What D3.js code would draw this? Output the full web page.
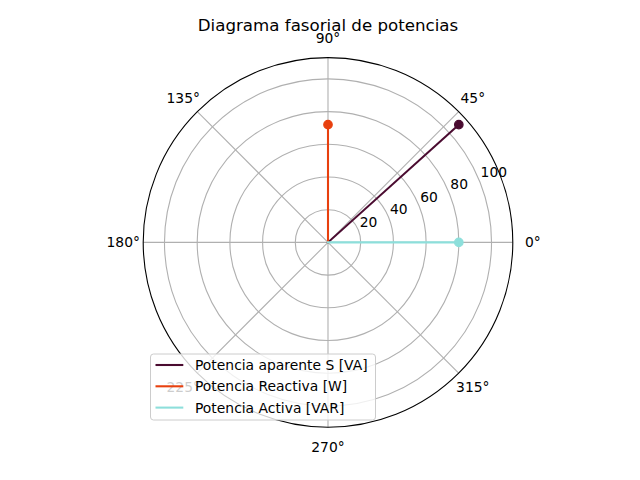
<!DOCTYPE html>
<html>
<head>
<meta charset="utf-8">
<script src="https://cdn.jsdelivr.net/npm/d3@7"></script>
<style>
  html, body { margin: 0; padding: 0; background: #fff; }
  svg { display: block; font-family: "DejaVu Sans", sans-serif; }
</style>
</head>
<body>
<div id="chart"></div>
<script>
// ---- data ----
const seriesNames = ["Potencia aparente S [VA]", "Potencia Reactiva [W]", "Potencia Activa [VAR]"];
const seriesColors = ["#4a0b30", "#e8400e", "#8ddfdb"];
const P = 80;        // active power
const Q = 72;        // reactive power
const S = Math.sqrt(P * P + Q * Q);
const phiDeg = Math.atan2(Q, P) * 180 / Math.PI;
const seriesMagnitudes = [S, Q, P];
const seriesAnglesDeg = [phiDeg, 90, 0];
const radialTicks = [20, 40, 60, 80, 100];
const angleTicks = [0, 45, 90, 135, 180, 225, 270, 315];
const title = "Diagrama fasorial de potencias";

// ---- layout ----
const W = 640, H = 480;
const cx = 328, cy = 242.4, R = 184.8;
const rMax = S * 1.05;

const svg = d3.select("#chart").append("svg").attr("width", W).attr("height", H);
const g = svg.append("g").attr("transform", `translate(${cx},${cy})`);

const r = d3.scaleLinear().domain([0, rMax]).range([0, R]);
const toRad = d => d * Math.PI / 180;
const px = (deg, rr) => rr * Math.cos(toRad(deg));
const py = (deg, rr) => -rr * Math.sin(toRad(deg));

// background
g.append("circle").attr("r", R).attr("fill", "#fff");

// grid circles
g.selectAll("circle.grid").data(radialTicks).join("circle")
  .attr("class", "grid").attr("r", d => r(d))
  .attr("fill", "none").attr("stroke", "#b0b0b0").attr("stroke-width", 1.1);

// theta grid lines
g.selectAll("line.tgrid").data(angleTicks).join("line")
  .attr("class", "tgrid")
  .attr("x1", 0).attr("y1", 0)
  .attr("x2", d => px(d, R)).attr("y2", d => py(d, R))
  .attr("stroke", "#b0b0b0").attr("stroke-width", 1.1);

// data lines
const idx = d3.range(seriesNames.length);
g.selectAll("line.data").data(idx).join("line")
  .attr("class", "data")
  .attr("x1", 0).attr("y1", 0)
  .attr("x2", i => px(seriesAnglesDeg[i], r(seriesMagnitudes[i])))
  .attr("y2", i => py(seriesAnglesDeg[i], r(seriesMagnitudes[i])))
  .attr("stroke", i => seriesColors[i]).attr("stroke-width", 2.08)
  .attr("stroke-linecap", "square");

g.selectAll("circle.marker").data(idx).join("circle")
  .attr("class", "marker")
  .attr("cx", i => px(seriesAnglesDeg[i], r(seriesMagnitudes[i])))
  .attr("cy", i => py(seriesAnglesDeg[i], r(seriesMagnitudes[i])))
  .attr("r", 4.2)
  .attr("fill", i => seriesColors[i])
  .attr("stroke", i => seriesColors[i]).attr("stroke-width", 1.3);

// outer spine
g.append("circle").attr("r", R).attr("fill", "none")
  .attr("stroke", "#000").attr("stroke-width", 1.1);

// radial tick labels at 22.5°
g.selectAll("text.rlab").data(radialTicks).join("text")
  .attr("class", "rlab")
  .attr("x", d => px(22.5, r(d)) + 1.5)
  .attr("y", d => py(22.5, r(d)) - 3)
  .attr("text-anchor", "start")
  .attr("font-size", 13.89).attr("fill", "#000")
  .text(d => d);

// angle labels
g.selectAll("text.tlab").data(angleTicks).join("text")
  .attr("class", "tlab")
  .attr("x", d => px(d, R + 20))
  .attr("y", d => py(d, R + 20))
  .attr("text-anchor", "middle")
  .attr("dominant-baseline", "central")
  .attr("font-size", 13.89).attr("fill", "#000")
  .text(d => d + "°");

// title
svg.append("text")
  .attr("x", cx).attr("y", 31)
  .attr("text-anchor", "middle")
  .attr("font-size", 16.67).attr("fill", "#000")
  .text(title);

// legend
const lx = 150.5, ly = 354, lw = 225, lh = 66;
const leg = svg.append("g");
leg.append("rect")
  .attr("x", lx).attr("y", ly).attr("width", lw).attr("height", lh)
  .attr("rx", 3).attr("ry", 3)
  .attr("fill", "#fff").attr("fill-opacity", 0.8)
  .attr("stroke", "#cccccc").attr("stroke-width", 1);
const rowY = [365, 386.3, 407.6];
leg.selectAll("line.lh").data(idx).join("line")
  .attr("class", "lh")
  .attr("x1", 155.5).attr("x2", 183.3)
  .attr("y1", i => rowY[i]).attr("y2", i => rowY[i])
  .attr("stroke", i => seriesColors[i]).attr("stroke-width", 2.08);
leg.selectAll("text.lt").data(idx).join("text")
  .attr("class", "lt")
  .attr("x", 195).attr("y", i => rowY[i])
  .attr("dominant-baseline", "central")
  .attr("font-size", 13.89).attr("fill", "#000")
  .text(i => seriesNames[i]);
</script>
</body>
</html>
